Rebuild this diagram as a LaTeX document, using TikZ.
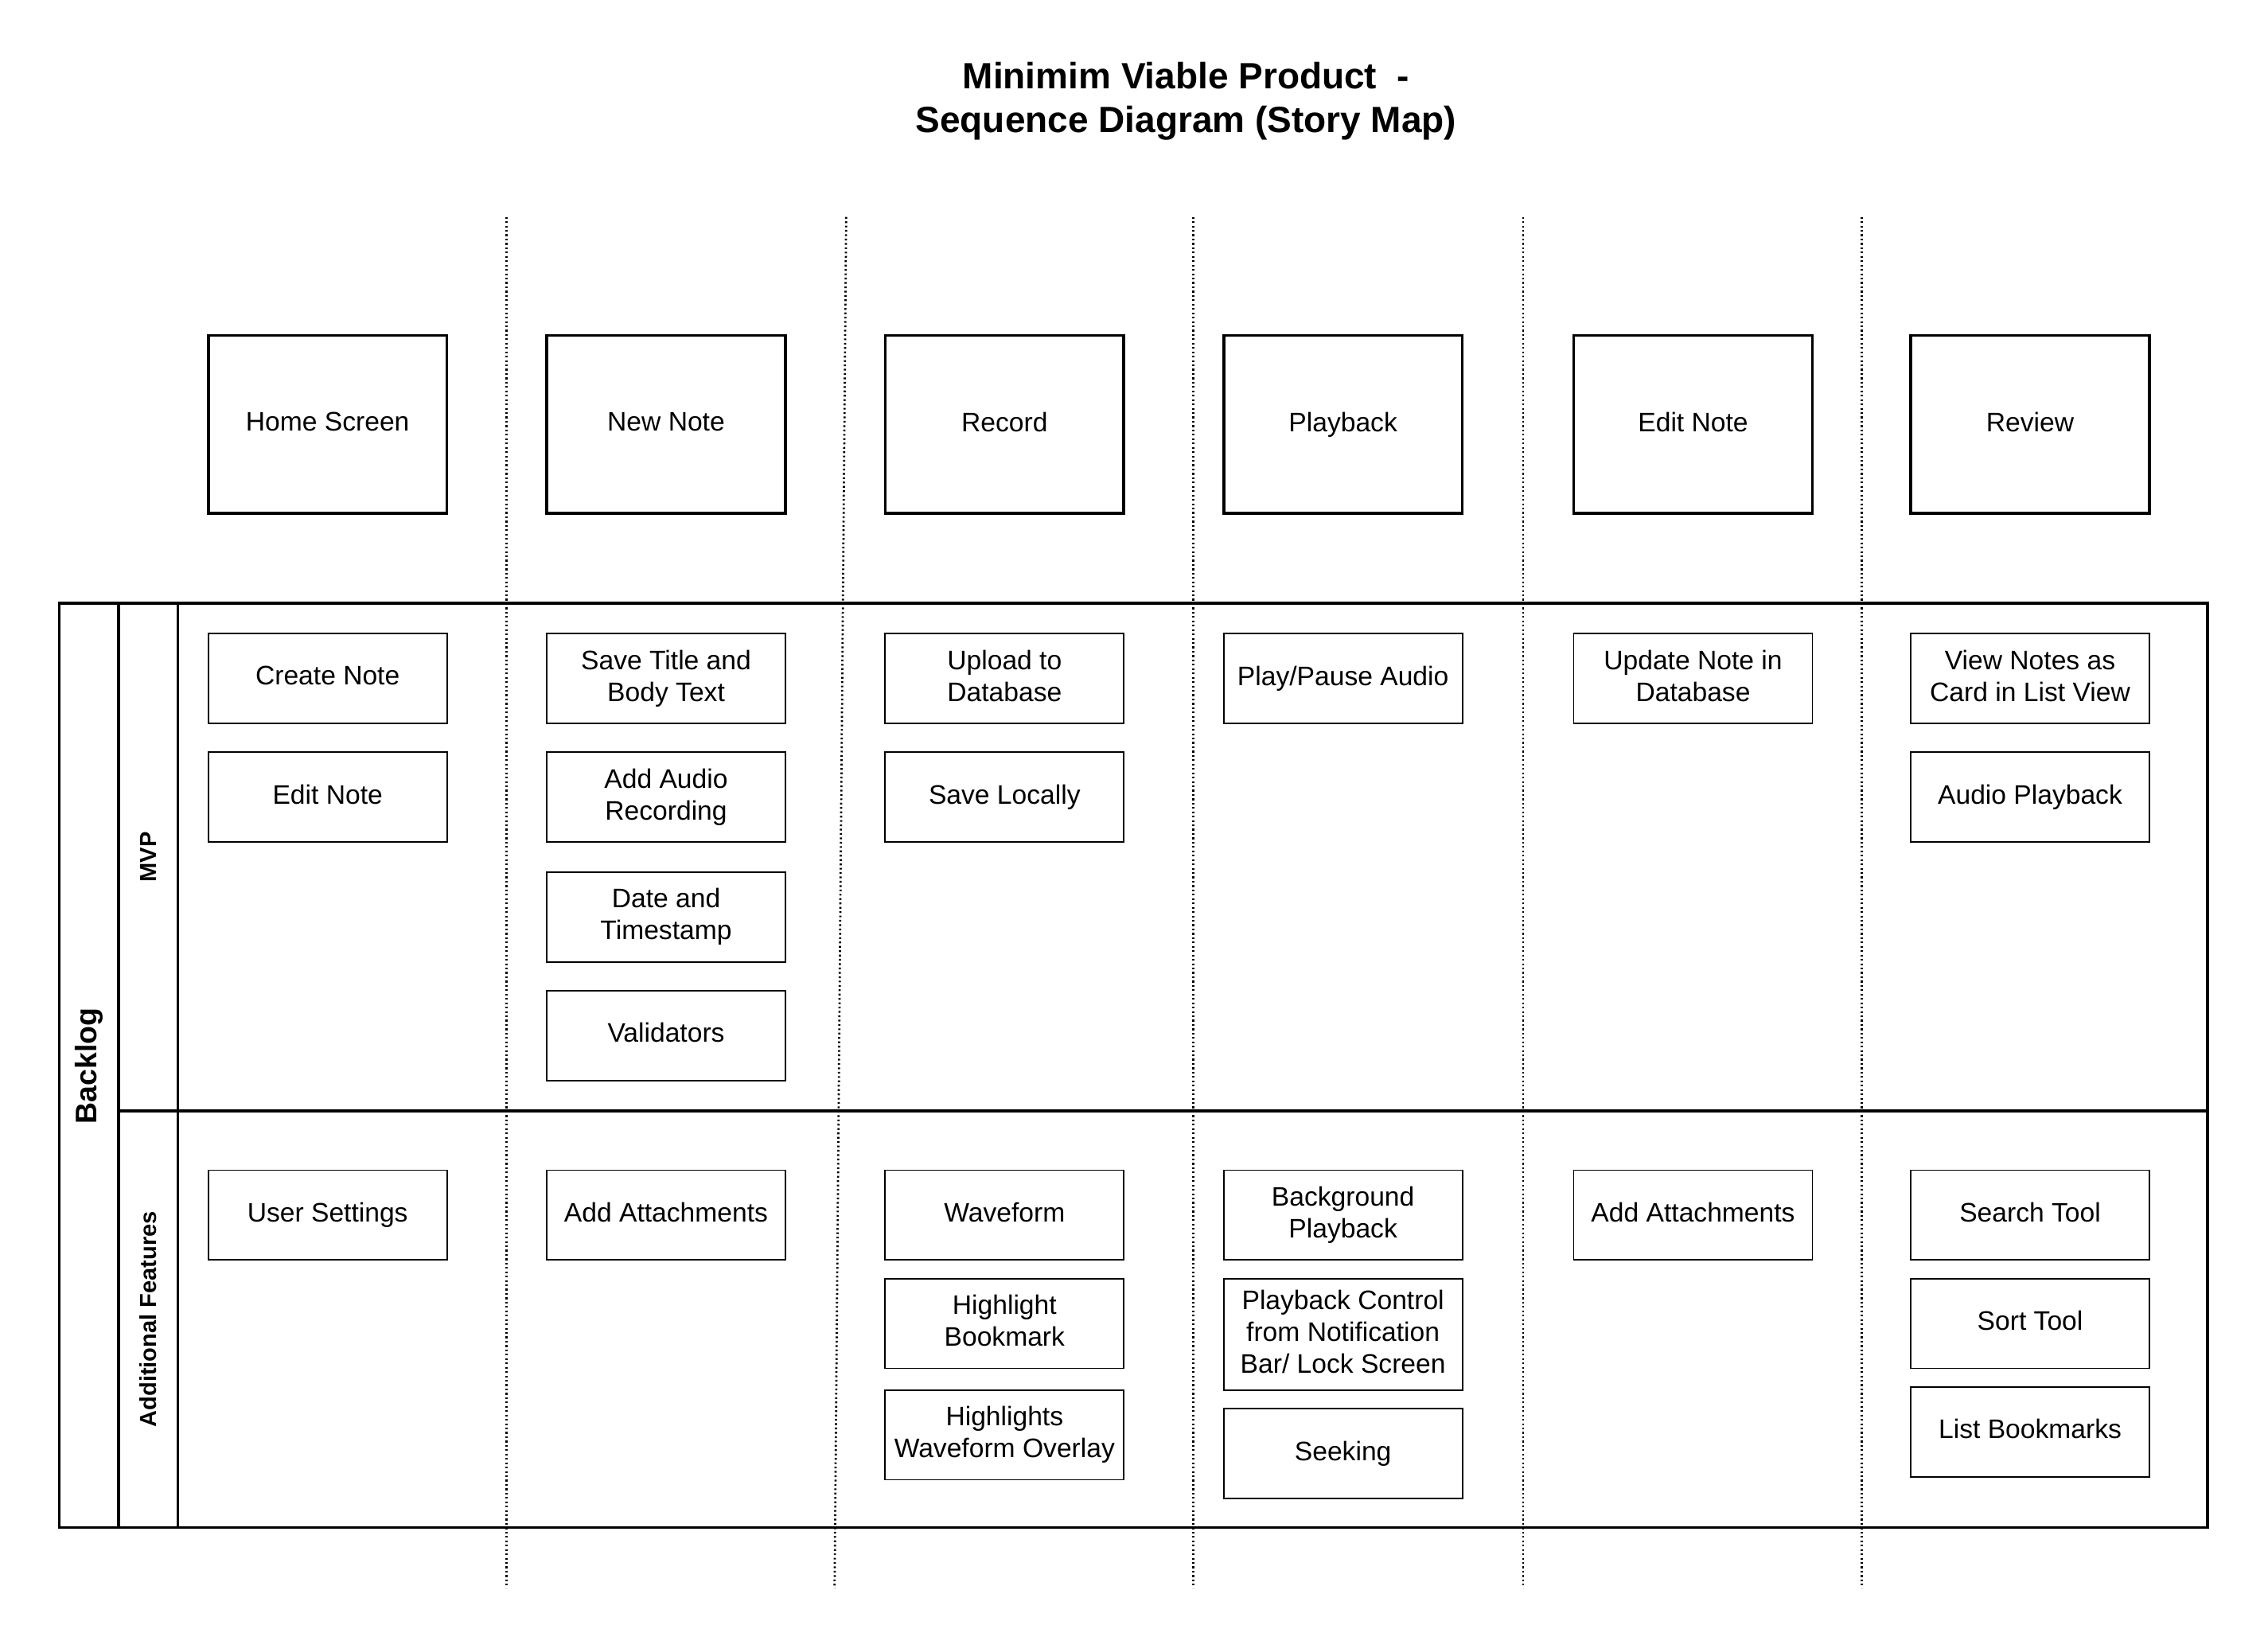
\documentclass[tikz,border=0pt]{standalone}
\usepackage{fontspec}
\setmainfont{Liberation Sans}
\begin{document}
\begin{tikzpicture}[x=1pt,y=-1pt,
    activity/.style={draw,line width=2pt,minimum width=165pt,minimum height=123pt,inner sep=0pt,text depth=4pt,font=\fontsize{18.5}{22}\selectfont},
    story/.style={draw,line width=1pt,minimum width=165pt,minimum height=62pt,inner sep=1pt,text depth=4pt,align=center,font=\fontsize{18.5}{22}\selectfont},
    lanelabel/.style={rotate=90,font=\bfseries\fontsize{16}{19}\selectfont},
    frame/.style={line width=2pt},
    separator/.style={line width=1.5pt,dash pattern=on 1.2pt off 1.8pt}]
    \useasboundingbox (0,0) rectangle (1568,1123);
    % title
    \node[align=center,font=\bfseries\fontsize{25.3}{30}\selectfont] (title) at (820,70)
        {Minimim Viable Product\ \ -\\Sequence Diagram (Story Map)};
    % separators between the activities
    \foreach \xa/\xb in {350/350,585/577,825/825,1053/1053,1287/1287}
        \draw[separator] (\xa,150) -- (\xb,1098);
    % backbone
    \foreach \x/\name/\txt in {226.5/home/Home Screen,460.5/newnote/New Note,694.5/record/Record,
        928.5/playback/Playback,1170.5/editnote/Edit Note,1403.5/review/Review}
        \node[activity] (\name) at (\x,293.5) {\txt};
    % backlog frame
    \draw[frame] (41,417) rectangle (1526,1056);
    \draw[frame] (82,417) -- (82,1056) (123,417) -- (123,1056);
    \draw[frame] (82,768) -- (1526,768);
    \node[rotate=90,font=\bfseries\fontsize{20.6}{24}\selectfont] (backlog) at (61.5,737) {Backlog};
    \node[lanelabel] (mvp) at (102.5,592.5) {MVP};
    \node[lanelabel] (extra) at (102.5,912) {Additional Features};
    % MVP stories
    \node[story] (createnote) at (226.5,469) {Create Note};
    \node[story] (editnotemvp) at (226.5,551) {Edit Note};
    \node[story] (savetitle) at (460.5,469) {Save Title and\\Body Text};
    \node[story] (addaudio) at (460.5,551) {Add Audio\\Recording};
    \node[story] (timestamp) at (460.5,634) {Date and\\Timestamp};
    \node[story] (validators) at (460.5,716) {Validators};
    \node[story] (upload) at (694.5,469) {Upload to\\Database};
    \node[story] (savelocal) at (694.5,551) {Save Locally};
    \node[story] (playpause) at (928.5,469) {Play/Pause Audio};
    \node[story] (updatenote) at (1170.5,469) {Update Note in\\Database};
    \node[story] (cardview) at (1403.5,469) {View Notes as\\Card in List View};
    \node[story] (audioplay) at (1403.5,551) {Audio Playback};
    % additional stories
    \node[story] (settings) at (226.5,840) {User Settings};
    \node[story] (attachnew) at (460.5,840) {Add Attachments};
    \node[story] (waveform) at (694.5,840) {Waveform};
    \node[story] (bookmark) at (694.5,915) {Highlight\\Bookmark};
    \node[story] (overlay) at (694.5,992) {Highlights\\Waveform Overlay};
    \node[story] (background) at (928.5,840) {Background\\Playback};
    \node[story,minimum height=77pt] (notifcontrol) at (928.5,922.5) {Playback Control\\from Notification\\Bar/ Lock Screen};
    \node[story] (seeking) at (928.5,1005) {Seeking};
    \node[story] (attachedit) at (1170.5,840) {Add Attachments};
    \node[story] (search) at (1403.5,840) {Search Tool};
    \node[story] (sort) at (1403.5,915) {Sort Tool};
    \node[story] (bookmarks) at (1403.5,990) {List Bookmarks};
\end{tikzpicture}
\end{document}
